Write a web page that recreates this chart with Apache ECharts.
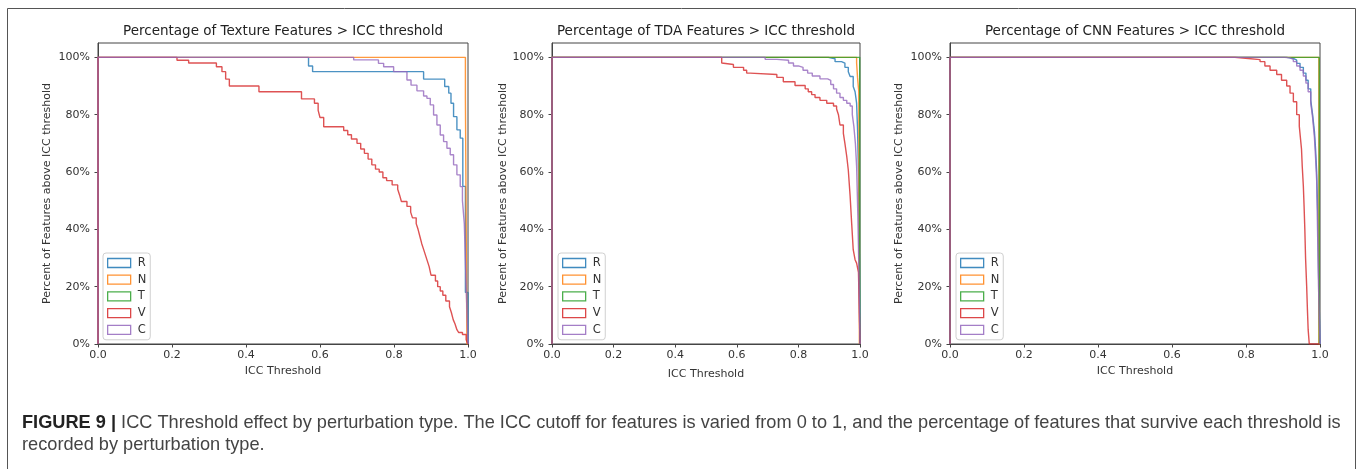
<!DOCTYPE html>
<html lang="en">
<head>
  <meta charset="UTF-8">
  <title>ICC Threshold effect by perturbation type</title>
  <script src="https://cdn.jsdelivr.net/npm/echarts@6/dist/echarts.min.js"></script>
  <style>
    html, body { margin: 0; padding: 0; background: #fff; }
    #chart { width: 1360px; height: 469px; }
  </style>
</head>
<body>
<div id="chart"></div>
<script>
  // axis ticks
  const xTicks = [0, 0.2, 0.4, 0.6, 0.8, 1.0];
  const yTicks = [0, 20, 40, 60, 80, 100];

  const seriesNames = ['R', 'N', 'T', 'V', 'C'];
  const seriesColors = ['#1f77b4', '#ff7f0e', '#2ca02c', '#d62728', '#9467bd'];

  const panelTitles = [
    'Percentage of Texture Features > ICC threshold',
    'Percentage of TDA Features > ICC threshold',
    'Percentage of CNN Features > ICC threshold'
  ];

  // each point: [ICC threshold, percent of features still above it from here on]
  const textureR = [[0, 0], [0, 100], [0.569, 97], [0.58, 95], [0.88, 92.4], [0.937, 89.8], [0.948, 87.5],
    [0.954, 84], [0.961, 79.3], [0.97, 74.7], [0.979, 71.8], [0.986, 55], [0.993, 18], [1, 0]];
  const textureN = [[0, 0], [0, 100], [0.993, 86], [0.997, 0], [1, 0]];
  const textureT = [];
  const textureV = [[0, 0], [0, 100], [0.2135, 99], [0.245, 98], [0.32, 96.7], [0.335, 95], [0.345, 92.4],
    [0.355, 90], [0.435, 88], [0.55, 85.5], [0.585, 84], [0.595, 81.5], [0.6, 79], [0.61, 75.8],
    [0.664, 74.5], [0.675, 73], [0.685, 71.5], [0.7, 70], [0.71, 68], [0.72, 66.5], [0.73, 64.5],
    [0.74, 62.5], [0.75, 61], [0.76, 60], [0.77, 58], [0.78, 57], [0.795, 55.5], [0.81, 54],
    [0.815, 52], [0.82, 49.7], [0.835, 48], [0.845, 46], [0.85, 44], [0.86, 42], [0.865, 40],
    [0.87, 37.5], [0.875, 35], [0.88, 33], [0.885, 31], [0.89, 29], [0.895, 27], [0.9, 24],
    [0.912, 22], [0.918, 20], [0.925, 18.5], [0.932, 17], [0.94, 15], [0.95, 13], [0.955, 11],
    [0.96, 8.5], [0.965, 7], [0.97, 5], [0.975, 4], [0.985, 3.3], [0.995, 1.5], [1, 0]];
  const textureC = [[0, 0], [0, 100], [0.691, 99.1], [0.758, 97.9], [0.772, 96.7], [0.799, 95], [0.835, 92.1],
    [0.846, 90.3], [0.862, 88.3], [0.88, 86.5], [0.889, 85.7], [0.898, 83.4], [0.907, 79.9],
    [0.916, 76.4], [0.925, 72.9], [0.934, 70.6], [0.943, 68.3], [0.952, 66], [0.961, 62.5],
    [0.97, 59], [0.979, 54.9], [0.985, 50], [0.99, 42], [0.995, 20], [1, 0]];

  const tdaR = [[0, 0], [0, 100], [0.897, 99.5], [0.919, 98.5], [0.94, 98], [0.951, 96.5], [0.962, 95],
    [0.968, 93.3], [0.978, 89.8], [0.984, 88], [0.989, 84], [0.992, 75], [0.995, 60], [0.998, 30], [1, 0]];
  const tdaN = [[0, 0], [0, 100], [0.989, 98], [0.992, 93], [0.996, 88], [0.998, 0], [1, 0]];
  const tdaT = [[0, 0], [0, 100], [0.999, 0], [1, 0]];
  const tdaV = [[0, 0], [0, 100], [0.551, 98], [0.557, 97.5], [0.589, 96.5], [0.622, 95.5], [0.632, 94.5],
    [0.643, 94], [0.73, 93], [0.751, 91.5], [0.789, 90.2], [0.822, 89], [0.832, 88], [0.843, 87],
    [0.854, 86], [0.87, 85], [0.892, 84], [0.914, 83], [0.924, 82], [0.93, 80], [0.935, 76.4],
    [0.946, 73.5], [0.951, 70], [0.957, 65.4], [0.962, 60.7], [0.968, 51.5], [0.973, 42],
    [0.978, 32.9], [0.984, 29.4], [0.989, 28.2], [0.995, 25], [1, 0]];
  const tdaC = [[0, 0], [0, 100], [0.692, 99.3], [0.73, 99], [0.768, 98], [0.784, 97], [0.8, 96.5],
    [0.815, 95.5], [0.83, 94.5], [0.845, 93.5], [0.87, 92.5], [0.895, 92], [0.905, 90.5], [0.914, 89],
    [0.924, 87.5], [0.935, 86], [0.946, 85], [0.957, 84], [0.968, 83], [0.975, 80], [0.98, 76],
    [0.985, 70], [0.989, 62], [0.993, 45], [0.996, 28], [1, 0]];

  const cnnR = [[0, 0], [0, 100], [0.91, 99.8], [0.919, 99.6], [0.928, 99], [0.937, 97.9], [0.946, 96.5],
    [0.955, 94.5], [0.962, 92], [0.968, 89], [0.975, 85], [0.98, 80], [0.985, 74], [0.988, 68],
    [0.991, 60], [0.994, 45], [0.996, 25], [1, 0]];
  const cnnN = [[0, 0], [0, 100], [0.997, 0], [1, 0]];
  const cnnT = [[0, 0], [0, 100], [0.998, 0], [1, 0]];
  const cnnV = [[0, 0], [0, 100], [0.77, 99.6], [0.806, 99.2], [0.838, 98.5], [0.851, 97], [0.865, 95.5],
    [0.883, 94], [0.896, 92], [0.91, 90], [0.919, 87.5], [0.928, 84.5], [0.937, 80], [0.944, 76],
    [0.947, 72], [0.95, 68], [0.952, 62], [0.955, 55], [0.957, 48], [0.959, 40], [0.961, 30],
    [0.964, 20], [0.966, 12], [0.968, 5], [0.971, 0], [1, 0]];
  const cnnC = [[0, 0], [0, 100], [0.905, 99.8], [0.919, 99.3], [0.928, 98.5], [0.937, 97], [0.946, 95.5],
    [0.955, 93.5], [0.962, 91], [0.968, 88], [0.975, 84], [0.98, 79], [0.985, 72], [0.988, 65],
    [0.991, 57], [0.994, 35], [0.996, 20], [1, 0]];

  const panelData = [
    [textureR, textureN, textureT, textureV, textureC],
    [tdaR, tdaN, tdaT, tdaV, tdaC],
    [cnnR, cnnN, cnnT, cnnV, cnnC]
  ];

  const captionLine1 = 'ICC Threshold effect by perturbation type. The ICC cutoff for features is varied from 0 to 1, and the percentage of features that survive each threshold is';
  const captionLine2 = 'recorded by perturbation type.';

  // layout of the three panels (pixels)
  const panels = [
    { left: 98, width: 370, xGap: 22, yGap: 45, legendLeft: 103 },
    { left: 552, width: 308, xGap: 25, yGap: 43, legendLeft: 558 },
    { left: 950, width: 370, xGap: 22, yGap: 45, legendLeft: 956 }
  ];
  const plotTop = 43, plotHeight = 301;

  const font = 'DejaVu Sans';
  const txt = '#333';
  const spine = '#444';

  const grid = [], xAxis = [], yAxis = [], series = [], title = [], legend = [];

  panels.forEach((p, i) => {
    grid.push({
      left: p.left, top: plotTop, width: p.width, height: plotHeight,
      show: true, borderColor: spine, borderWidth: 1, backgroundColor: 'transparent'
    });
    title.push({
      text: panelTitles[i],
      left: p.left + p.width / 2, top: 24, textAlign: 'center', padding: 0,
      textStyle: { fontFamily: font, fontSize: 13.5, fontWeight: 'normal', color: '#222' }
    });
    xAxis.push({
      gridIndex: i, type: 'value', min: 0, max: 1, interval: 0.2,
      name: 'ICC Threshold', nameLocation: 'middle', nameGap: p.xGap,
      nameTextStyle: { fontFamily: font, fontSize: 11, color: txt },
      axisLine: { show: true, lineStyle: { color: spine, width: 1 } },
      axisTick: { show: true, length: 3.5, lineStyle: { color: spine } },
      axisLabel: { fontFamily: font, fontSize: 11, color: txt, margin: 6, formatter: v => v.toFixed(1) },
      splitLine: { show: false }
    });
    yAxis.push({
      gridIndex: i, type: 'value', min: 0, max: 105,
      name: 'Percent of Features above ICC threshold', nameLocation: 'middle', nameGap: p.yGap,
      nameRotate: 90,
      nameTextStyle: { fontFamily: font, fontSize: 11, color: txt },
      axisLine: { show: true, lineStyle: { color: spine, width: 1 } },
      axisTick: { show: true, length: 3.5, lineStyle: { color: spine }, customValues: yTicks },
      axisLabel: { fontFamily: font, fontSize: 11, color: txt, margin: 8, formatter: '{value}%', customValues: yTicks },
      splitLine: { show: false }
    });
    seriesNames.forEach((name, k) => {
      series.push({
        name: name, type: 'line', step: 'end', xAxisIndex: i, yAxisIndex: i,
        data: panelData[i][k], showSymbol: false, silent: true,
        itemStyle: { color: seriesColors[k] },
        lineStyle: { color: seriesColors[k], width: 1.4, opacity: 0.8 }
      });
    });
    legend.push({
      orient: 'vertical', left: p.legendLeft, top: 253,
      padding: [4, 4, 4, 4], itemWidth: 23, itemHeight: 9, itemGap: 4.7,
      backgroundColor: 'rgba(255,255,255,0.8)', borderColor: '#d0d0d0', borderWidth: 1, borderRadius: 3,
      textStyle: { fontFamily: font, fontSize: 11.5, color: txt, lineHeight: 12, padding: [0, 0, 0, 2] },
      selectedMode: false,
      data: seriesNames.map((name, k) => ({
        name: name, icon: 'rect',
        itemStyle: { color: '#fff', borderColor: seriesColors[k], borderWidth: 1.3, opacity: 0.85 }
      }))
    });
  });

  const chart = echarts.init(document.getElementById('chart'), null, { renderer: 'canvas' });
  chart.setOption({
    animation: false,
    backgroundColor: '#fff',
    title: title,
    grid: grid,
    xAxis: xAxis,
    yAxis: yAxis,
    legend: legend,
    series: series,
    graphic: [
      {
        type: 'rect', silent: true,
        shape: { x: 7.5, y: 8.5, width: 1348, height: 480 },
        style: { fill: 'none', stroke: '#555', lineWidth: 1 }
      },
      {
        type: 'text', silent: true, x: 22, y: 423,
        style: {
          text: '{b|FIGURE 9 |} ' + captionLine1,
          fontFamily: 'Liberation Sans', fontSize: 18.2, fill: '#444', verticalAlign: 'middle',
          rich: { b: { fontFamily: 'Liberation Sans', fontSize: 18.2, fontWeight: 'bold', fill: '#222' } }
        }
      },
      {
        type: 'text', silent: true, x: 22, y: 445,
        style: { text: captionLine2, fontFamily: 'Liberation Sans', fontSize: 18.2, fill: '#444', verticalAlign: 'middle' }
      }
    ]
  });
</script>
</body>
</html>
